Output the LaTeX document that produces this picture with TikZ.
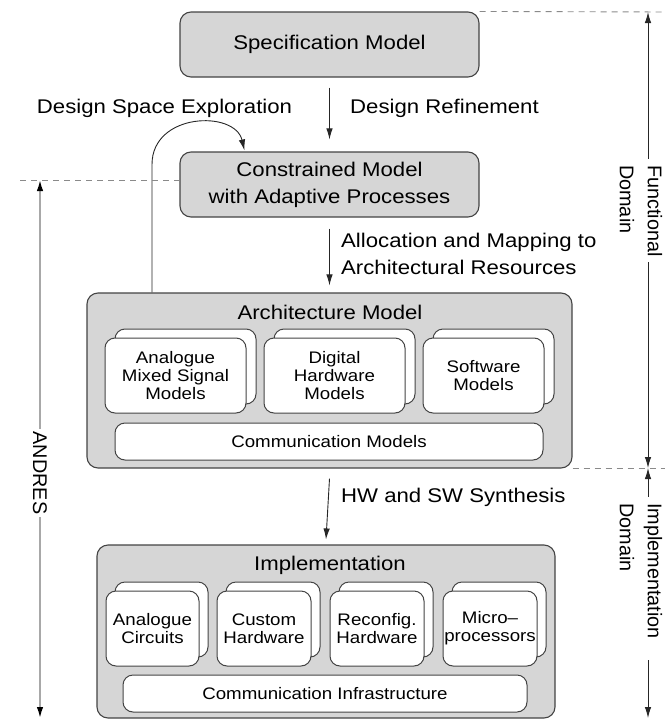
\documentclass[tikz,border=0pt]{standalone}
\usepackage{fontspec}
\setmainfont[FakeStretch=1.12]{Liberation Sans}
\newfontfamily\rotfam{Liberation Sans}
\usetikzlibrary{arrows.meta}
\definecolor{boxgray}{HTML}{D6D6D6}
\definecolor{edge}{HTML}{444444}
\definecolor{dashgray}{HTML}{8A8A8A}
\definecolor{linegray}{HTML}{A8A8A8}
\newcommand\lblfont{\fontsize{19.8}{27}\selectfont}
\newcommand\subfnt{\fontsize{16.7}{18.3}\selectfont}
\newcommand\rotfnt{\rotfam\fontsize{19.8}{28}\selectfont}
\tikzset{
  bigbox/.style={draw=edge, fill=boxgray, rounded corners=11pt, line width=1.1pt, inner sep=0pt},
  subbox/.style={draw=edge, fill=white, rounded corners=10pt, line width=1pt, inner sep=0pt, align=center, font=\subfnt},
  lbl/.style={font=\lblfont, align=left, inner sep=0pt},
  arr/.style={-{Latex[length=11pt,width=6.5pt]}, line width=0.9pt, draw=black!85},
  darr/.style={line width=0.9pt, draw=black!85},
  dsh/.style={draw=dashgray, line width=0.9pt, dash pattern=on 6pt off 5pt},
  dom/.style={font=\rotfnt, align=left, inner sep=0pt, rotate=-90, anchor=north west},
}
\begin{document}
\begin{tikzpicture}[x=1pt,y=-1pt]
\useasboundingbox (0,0) rectangle (665,720);
% main boxes
\node[bigbox, minimum width=299pt, minimum height=65pt, font=\lblfont] (spec) at (329.5,44.5) {Specification Model};
\node[bigbox, minimum width=299pt, minimum height=65pt, font=\lblfont, align=center] (con) at (329.5,184.5) {Constrained Model\\with Adaptive Processes};
\node[bigbox, minimum width=485pt, minimum height=175pt] (arch) at (329.5,380.5) {};
\node[lbl] (archt) at (330,312) {Architecture Model};
\node[bigbox, minimum width=458pt, minimum height=173pt] (impl) at (326,631.5) {};
\node[lbl] (implt) at (330,565) {Implementation};
% architecture sub boxes
\node[subbox, minimum width=141pt, minimum height=75pt] (a1b) at (185.5,366.5) {};
\node[subbox, minimum width=141pt, minimum height=75pt] (a1) at (175.5,375.5) {Analogue\\Mixed Signal\\Models};
\node[subbox, minimum width=141pt, minimum height=75pt] (a2b) at (344.5,366.5) {};
\node[subbox, minimum width=141pt, minimum height=75pt] (a2) at (334.5,375.5) {Digital\\Hardware\\Models};
\node[subbox, minimum width=121pt, minimum height=75pt] (a3b) at (493.5,366.5) {};
\node[subbox, minimum width=121pt, minimum height=75pt] (a3) at (483.5,375.5) {Software\\Models};
\node[subbox, minimum width=428pt, minimum height=37pt] (acm) at (329,441.5) {Communication Models};
% implementation sub boxes
\node[subbox, minimum width=93pt, minimum height=75pt] (i1b) at (161.5,619.5) {};
\node[subbox, minimum width=93pt, minimum height=75pt] (i1) at (152.5,628.5) {Analogue\\Circuits};
\node[subbox, minimum width=94pt, minimum height=75pt] (i2b) at (273,619.5) {};
\node[subbox, minimum width=94pt, minimum height=75pt] (i2) at (264,628.5) {Custom\\Hardware};
\node[subbox, minimum width=94pt, minimum height=75pt] (i3b) at (386,619.5) {};
\node[subbox, minimum width=94pt, minimum height=75pt] (i3) at (377,628.5) {Reconfig.\\Hardware};
\node[subbox, minimum width=94pt, minimum height=75pt] (i4b) at (499,619.5) {};
\node[subbox, minimum width=94pt, minimum height=75pt] (i4) at (490,628.5) {Micro--\\processors};
\node[subbox, minimum width=404pt, minimum height=37pt] (icm) at (325,693.5) {Communication Infrastructure};
% flow arrows and labels
\draw[arr] ([yshift=-10pt]spec.south) -- ([yshift=12pt]con.north);
\node[lbl, anchor=west] (dref) at (350,108) {Design Refinement};
\node[lbl] (dse) at (164.5,108) {Design Space Exploration};
\draw[arr] ([yshift=-11pt]con.south) -- ([yshift=7pt]arch.north);
\node[lbl, anchor=west] (alloc) at (341,253.5) {Allocation and Mapping to\\Architectural Resources};
\draw[arr] ([yshift=-10pt]arch.south) -- ([yshift=5pt]impl.north);
\node[lbl, anchor=west] (hwsw) at (341,497) {HW and SW Synthesis};
\draw[arr] ([xshift=-177.5pt]arch.north) -- ++(0,-128) .. controls ++(0,-52) and (235,110) .. ([xshift=65pt,yshift=1pt]con.north west);
% domain markers
\coordinate (rt) at (665,12);
\coordinate (ft) at (648,12);
\coordinate (f1) at (648,159);
\coordinate (f2) at (648,262);
\coordinate (fb) at (648,468);
\coordinate (g1) at (648,497);
\coordinate (g2) at (648,660);
\coordinate (ib) at (648,718);
\coordinate (dl) at (20,180);
\coordinate (at) at (40,180);
\coordinate (ab) at (40,718);
\draw[dsh] (spec.north east) -- (rt);
\draw[dsh] (arch.south east) -- (arch.south east -| rt);
\draw[dsh] (dl) -- (dl -| con.west);
\draw[darr, {Latex[length=11pt,width=6.5pt]}-] (ft) -- (f1);
\draw[darr, -{Latex[length=11pt,width=6.5pt]}] (f2) -- (fb);
\draw[darr, {Latex[length=11pt,width=6.5pt]}-] (fb) -- (g1);
\draw[darr, -{Latex[length=11pt,width=6.5pt]}] (g2) -- (ib);
\draw[{Latex[length=11pt,width=6.5pt,color=black]}-{Latex[length=11pt,width=6.5pt,color=black]}, line width=1.6pt, draw=linegray] (at) -- (ab);
\node[dom] (fdom) at (662.5,165) {Functional\\Domain};
\node[dom] (idom) at (662.5,503) {Implementation\\Domain};
\node[font=\rotfnt, fill=white, inner sep=3pt, rotate=-90] (andres) at (40,473) {ANDRES};
\end{tikzpicture}
\end{document}
